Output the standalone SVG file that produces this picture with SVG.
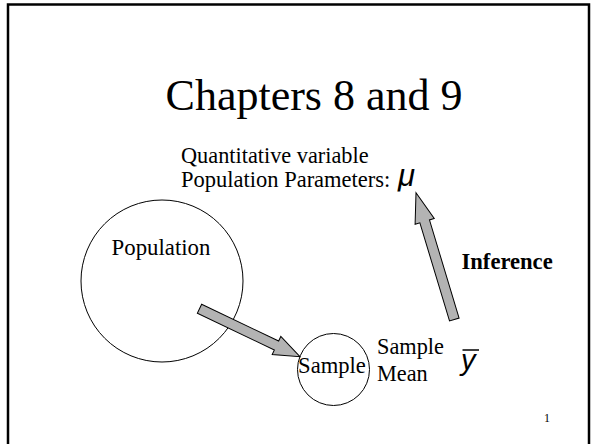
<svg xmlns="http://www.w3.org/2000/svg" width="592" height="444" viewBox="0 0 592 444">
<style>
.t{font-family:"Liberation Serif","Times New Roman",serif;fill:#000}
.node{fill:none;stroke:#000;stroke-width:1}
.arr{fill:#b3b3b3;stroke:#000;stroke-width:1;stroke-linejoin:miter}
.m{font-family:"Liberation Sans",Arial,sans-serif;font-style:italic;fill:#000}
</style>
<rect x="0" y="0" width="592" height="444" fill="#fff"/>
<rect x="8" y="4.5" width="581" height="460" fill="none" stroke="#000" stroke-width="2.5"/>
<text class="t" x="314" y="110" font-size="44" text-anchor="middle">Chapters 8 and 9</text>
<g id="params">
<text class="t" x="181" y="163" font-size="22.3">Quantitative variable</text>
<text class="t" x="181" y="187" font-size="22.5">Population Parameters:</text>
<text class="m" x="398" y="186" font-size="31">μ</text>
</g>
<g id="population">
<circle class="node" cx="162" cy="281" r="81"/>
<text class="t" x="161" y="255" font-size="22.8" text-anchor="middle">Population</text>
</g>
<g id="sample">
<circle class="node" cx="333.5" cy="369.5" r="36"/>
<text class="t" x="332" y="373" font-size="22.6" text-anchor="middle">Sample</text>
</g>
<g id="samplemean">
<text class="t" x="377" y="354" font-size="22.3">Sample</text>
<text class="t" x="377" y="381" font-size="22.3">Mean</text>
<text class="m" x="461" y="370" font-size="29">y</text>
<line x1="462.5" y1="350" x2="479" y2="350" stroke="#000" stroke-width="1.5"/>
</g>
<g id="inference-label">
<text class="t" x="461.5" y="269" font-size="22.6" font-weight="bold">Inference</text>
</g>
<g id="connectors">
<path class="arr" transform="translate(199.5,308.8) rotate(25.48)" d="M0,-5 L85.3,-5 L85.3,-10 L111.3,0 L85.3,10 L85.3,5 L0,5 Z"/>
<path class="arr" transform="translate(454.3,319.5) rotate(-106.8)" d="M0,-5 L102.5,-5 L102.5,-10 L132.5,0 L102.5,10 L102.5,5 L0,5 Z"/>
</g>
<text class="t" x="544" y="422" font-size="12">1</text>
</svg>
